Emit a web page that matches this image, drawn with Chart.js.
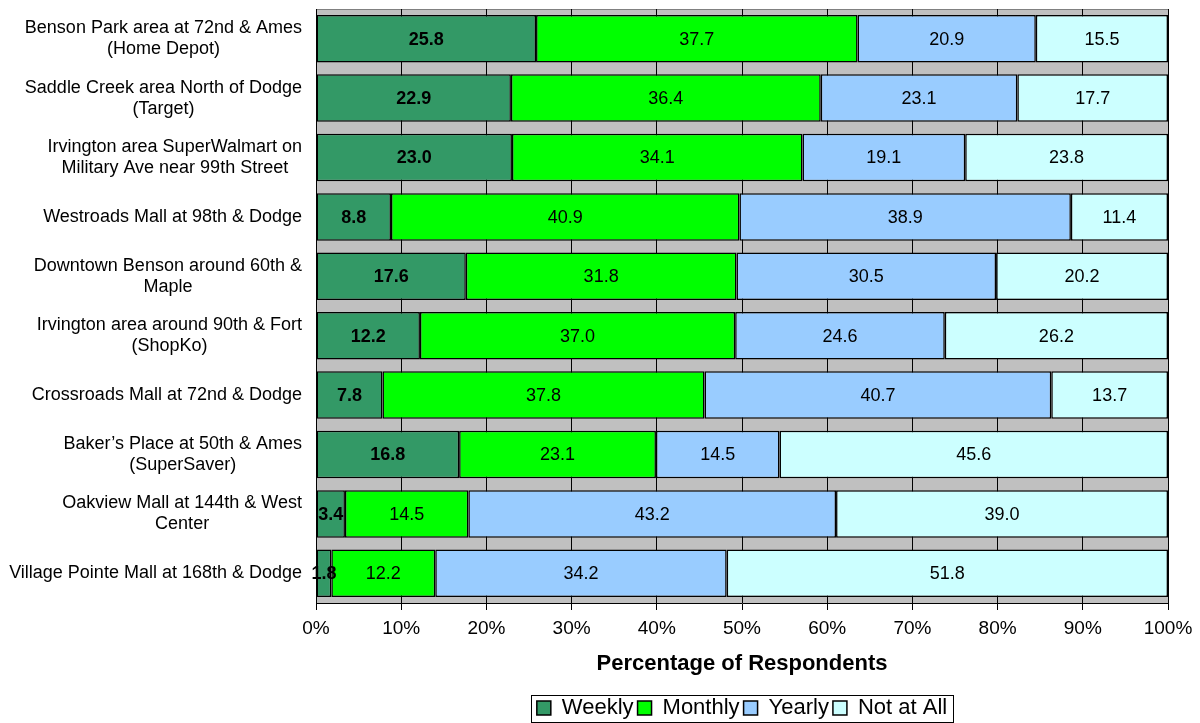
<!DOCTYPE html>
<html>
<head>
<meta charset="utf-8">
<script src="https://cdn.jsdelivr.net/npm/chart.js@4.4.1/dist/chart.umd.min.js"></script>
<style>
html,body{margin:0;padding:0;background:#fff;}
#wrap{width:1200px;height:723px;}
</style>
</head>
<body>
<div id="wrap"><canvas id="c" width="1200" height="723"></canvas></div>
<script>
const categories = [
  ["Benson Park area at 72nd & Ames", "(Home Depot)"],
  ["Saddle Creek area North of Dodge", "(Target)"],
  ["Irvington area SuperWalmart on", "Military Ave near 99th Street"],
  ["Westroads Mall at 98th & Dodge"],
  ["Downtown Benson around 60th &", "Maple"],
  ["Irvington area around 90th & Fort", "(ShopKo)"],
  ["Crossroads Mall at 72nd & Dodge"],
  ["Baker\u2019s Place at 50th & Ames", "(SuperSaver)"],
  ["Oakview Mall at 144th & West", "Center"],
  ["Village Pointe Mall at 168th & Dodge"]
];
const weekly   = [25.8, 22.9, 23.0, 8.8, 17.6, 12.2, 7.8, 16.8, 3.4, 1.8];
const monthly  = [37.7, 36.4, 34.1, 40.9, 31.8, 37.0, 37.8, 23.1, 14.5, 12.2];
const yearly   = [20.9, 23.1, 19.1, 38.9, 30.5, 24.6, 40.7, 14.5, 43.2, 34.2];
const notAtAll = [15.5, 17.7, 23.8, 11.4, 20.2, 26.2, 13.7, 45.6, 39.0, 51.8];
const seriesNames = ["Weekly", "Monthly", "Yearly", "Not at All"];
const xTicks = [0,10,20,30,40,50,60,70,80,90,100];
const axisTitle = "Percentage of Respondents";

const FONT = "'Liberation Sans', Arial, sans-serif";
const raw = [weekly, monthly, yearly, notAtAll];
// 100% stacked: each row scaled to its total (as the spreadsheet does)
const totals = categories.map((_, i) => raw.reduce((s, a) => s + a[i], 0));
const pct = raw.map(a => a.map((v, i) => v / totals[i] * 100));
const colors = ["#339966", "#00FF00", "#99CCFF", "#CCFFFF"];

const datasets = seriesNames.map((n, k) => ({
  label: n,
  data: pct[k],
  raw: raw[k],
  backgroundColor: colors[k],
  borderColor: "#000",
  borderWidth: 1.5,
  borderSkipped: false,
  barPercentage: 0.8,
  categoryPercentage: 1.0
}));

const plotBg = {
  id: "plotBg",
  beforeDraw(chart) {
    const {ctx, chartArea: a} = chart;
    ctx.save();
    ctx.fillStyle = "#C0C0C0";
    ctx.fillRect(a.left, a.top, a.right - a.left, a.bottom - a.top);
    ctx.strokeStyle = "#808080";
    ctx.lineWidth = 1;
    ctx.beginPath();
    ctx.moveTo(a.left, a.top + 0.5);
    ctx.lineTo(a.right, a.top + 0.5);
    ctx.stroke();
    ctx.restore();
  }
};

const moveLegend = {
  id: "moveLegend",
  afterLayout(chart) {
    const lg = chart.legend, a = chart.chartArea;
    if (!lg) return;
    const dx = (a.left + a.right) / 2 - (lg.left + lg.right) / 2;
    lg.left += dx; lg.right += dx;
    lg.top += 6; lg.bottom += 6;
  }
};

const catLabels = {
  id: "catLabels",
  afterDraw(chart) {
    const {ctx} = chart;
    const y = chart.scales.y;
    ctx.save();
    ctx.font = "18px " + FONT;
    ctx.fillStyle = "#000";
    ctx.textAlign = "center";
    ctx.textBaseline = "middle";
    const right = 302, lh = 21;
    categories.forEach((lines, i) => {
      const cy = y.getPixelForValue(i);
      const w = Math.max(...lines.map(l => ctx.measureText(l).width));
      const cx = right - w / 2;
      const y0 = cy - (lines.length - 1) * lh / 2;
      lines.forEach((l, j) => ctx.fillText(l, cx, y0 + j * lh));
    });
    ctx.restore();
  }
};

const dataLabels = {
  id: "dataLabels",
  afterDatasetsDraw(chart) {
    const {ctx} = chart;
    ctx.save();
    ctx.fillStyle = "#000";
    ctx.textAlign = "center";
    ctx.textBaseline = "middle";
    chart.data.datasets.forEach((ds, k) => {
      ctx.font = (k === 0 ? "bold " : "") + "18px " + FONT;
      chart.getDatasetMeta(k).data.forEach((bar, i) => {
        const p = bar.getProps(["x", "y", "base"], true);
        const cx = (p.x + p.base) / 2;
        ctx.fillText(ds.raw[i].toFixed(1), cx, p.y + 1);
      });
    });
    ctx.restore();
  }
};

const legendBorder = {
  id: "legendBorder",
  afterDraw(chart) {
    const lg = chart.legend;
    if (!lg || !lg.legendHitBoxes || !lg.legendHitBoxes.length) return;
    const hb = lg.legendHitBoxes;
    const l = Math.min(...hb.map(h => h.left)) - 6;
    const r = Math.max(...hb.map(h => h.left + h.width)) + 6;
    const t = Math.min(...hb.map(h => h.top)) - 2;
    const b = Math.max(...hb.map(h => h.top + h.height)) + 3;
    const {ctx} = chart;
    ctx.save();
    ctx.strokeStyle = "#000";
    ctx.lineWidth = 1;
    ctx.strokeRect(Math.round(l) + 0.5, Math.round(t) + 0.5, Math.round(r - l), Math.round(b - t));
    ctx.restore();
  }
};

new Chart(document.getElementById("c"), {
  type: "bar",
  data: { labels: categories.map(c => c.join(" ")), datasets },
  options: {
    indexAxis: "y",
    responsive: false,
    animation: false,
    devicePixelRatio: 1,
    layout: { padding: { top: 9, right: 32, left: 0, bottom: 0 } },
    plugins: {
      legend: {
        position: "bottom",
        labels: {
          font: { family: FONT, size: 22 },
          color: "#000",
          boxWidth: 14,
          boxHeight: 14,
          padding: 4
        }
      },
      tooltip: { enabled: false }
    },
    scales: {
      x: {
        stacked: true,
        min: 0, max: 100,
        afterBuildTicks(s) { s.ticks = xTicks.map(v => ({ value: v })); },
        afterFit(s) { s.height = 84; },
        grid: { color: "#000", lineWidth: 1, tickLength: 7, drawOnChartArea: true },
        border: { color: "#000", width: 1 },
        ticks: {
          callback: v => v + "%",
          font: { family: FONT, size: 19 },
          color: "#000",
          padding: 7,
          maxRotation: 0
        },
        title: {
          display: true,
          text: axisTitle,
          font: { family: FONT, size: 22, weight: "bold" },
          color: "#000",
          padding: { top: 4, bottom: 10 }
        }
      },
      y: {
        stacked: true,
        afterFit(s) { s.width = 316; },
        grid: { display: false },
        border: { color: "#000", width: 1 },
        ticks: { display: false }
      }
    }
  },
  plugins: [plotBg, moveLegend, catLabels, dataLabels, legendBorder]
});
</script>
</body>
</html>
